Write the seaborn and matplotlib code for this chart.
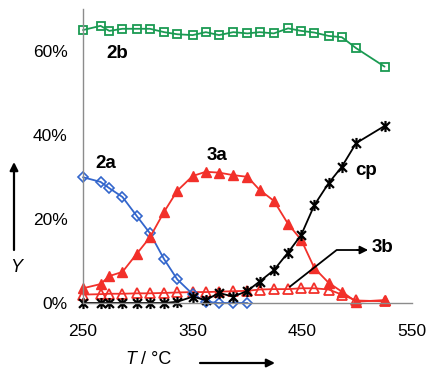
import matplotlib
matplotlib.use("Agg")
import matplotlib.pyplot as plt
import seaborn as sns
import numpy as np
import pandas as pd
from matplotlib.path import Path
from matplotlib.ticker import FuncFormatter

# ---- data ----
T = [250, 266, 274, 286, 299, 311, 324, 336, 350, 362, 374, 387, 400,
     411, 424, 437, 449, 461, 474, 486, 499, 525]
y_2b = [64.9, 65.9, 64.7, 65.2, 65.2, 65.2, 64.4, 63.9, 63.7, 64.4, 63.7, 64.4,
        64.1, 64.4, 64.1, 65.3, 64.7, 64.3, 63.5, 63.2, 60.6, 56.2]
y_2a = [29.9, 28.8, 27.3, 25.2, 20.7, 16.6, 10.4, 5.6, 2.1, 0.3, 0.0, 0.0, 0.0]
y_3a = [3.5, 4.5, 6.4, 7.4, 11.7, 15.6, 21.7, 26.7, 30.2, 31.2, 31.0, 30.4,
        30.0, 26.9, 24.3, 18.8, 15.0, 8.3, 4.8, 2.7, 0.3, 0.7]
y_3b = [2.0, 2.1, 2.2, 2.2, 2.3, 2.3, 2.4, 2.5, 2.6, 2.6, 2.7, 2.8,
        2.9, 3.2, 3.3, 3.3, 3.5, 3.5, 3.2, 2.0, 0.6, 0.4]
y_cp = [0.0, 0.0, 0.0, 0.0, 0.0, 0.0, 0.0, 0.3, 1.5, 0.7, 2.4, 1.5,
        2.9, 5.1, 7.8, 12.0, 16.2, 23.3, 28.5, 32.4, 38.0, 42.1]
x_ticks = [250, 350, 450, 550]
y_ticks = [0, 20, 40, 60]

sns.set_theme(style="white")
plt.rcParams['font.family'] = ['Liberation Sans', 'DejaVu Sans']
plt.rcParams['text.color'] = 'black'

fig = plt.figure(figsize=(4.27, 3.69), dpi=100)
ax = fig.add_axes([83/427, 1-303/369, (412-83)/427, (303-8.6)/369])

green = "#1a9a52"
blue = "#3366cc"
red = "#f2302a"

# asterisk marker: vertical + two diagonals
star = Path([(0, -1), (0, 1), (-0.8, -0.8), (0.8, 0.8), (-0.8, 0.8), (0.8, -0.8)],
            [Path.MOVETO, Path.LINETO, Path.MOVETO, Path.LINETO, Path.MOVETO, Path.LINETO])

common = dict(ax=ax, lw=1.3, clip_on=False)
sns.lineplot(x=T, y=y_2b, color=green, marker='s', ms=6,
             markerfacecolor='none', markeredgecolor=green, mew=1.3, **common)
sns.lineplot(x=T, y=y_3b, color=red, marker='^', ms=6.5,
             markerfacecolor='none', markeredgecolor=red, mew=1.3, **common)
sns.lineplot(x=T[:len(y_2a)], y=y_2a, color=blue, marker='D', ms=4.8,
             markerfacecolor='none', markeredgecolor=blue, mew=1.2, **common)
sns.lineplot(x=T, y=y_3a, color=red, marker='^', ms=7,
             markerfacecolor=red, markeredgecolor=red, mew=1, **common)
sns.lineplot(x=T, y=y_cp, color='black', marker=star, ms=8,
             markerfacecolor='none', markeredgecolor='black', mew=1.6, **common)

ax.set_xlim(250, 550)
ax.set_ylim(0, 70)
ax.set_xticks(x_ticks)
ax.set_yticks(y_ticks)
ax.yaxis.set_major_formatter(FuncFormatter(lambda v, p: f"{int(v)}%"))
ax.set_xlabel("")
ax.set_ylabel("")
for s in ['top', 'right']:
    ax.spines[s].set_visible(False)
for s in ['left', 'bottom']:
    ax.spines[s].set_color('#8c8c8c')
    ax.spines[s].set_linewidth(1.0)
ax.tick_params(axis='both', direction='out', length=5, width=1, color='#8c8c8c',
               labelsize=12.5, labelcolor='black', pad=6)
ax.tick_params(axis='x', pad=10)
ax.grid(False)

# series labels
lab = dict(fontsize=13.5, fontweight='bold', ha='center', va='center', color='black')
ax.text(281, 59.4, "2b", **lab)
ax.text(271, 33.1, "2a", **lab)
ax.text(372, 35.1, "3a", **lab)
ax.text(508, 31.4, "cp", **lab)
ax.text(523, 13.1, "3b", **lab)

# 3b arrow
ax.plot([438.7, 481.3, 502], [3.9, 12.6, 12.6], color='black', lw=1.3)
ax.annotate("", xy=(510, 12.6), xytext=(500, 12.6),
            arrowprops=dict(arrowstyle='-|>', color='black', lw=1.3,
                            mutation_scale=12, shrinkA=0, shrinkB=0))

# axis titles with arrows (figure pixel coordinates)
fig.text(125/427, 1-360/369, "T", fontsize=13, style='italic', ha='left', va='center')
fig.text(141/427, 1-360/369, "/ °C", fontsize=13, ha='left', va='center')
ax.annotate("", xy=(275, 6), xytext=(200, 6), xycoords='figure pixels',
            textcoords='figure pixels',
            arrowprops=dict(arrowstyle='-|>', color='black', lw=1.6,
                            mutation_scale=12, shrinkA=0, shrinkB=0))
fig.text(16/427, 1-267/369, "Y", fontsize=13, style='italic', ha='center', va='center')
ax.annotate("", xy=(14, 207), xytext=(14, 119), xycoords='figure pixels',
            textcoords='figure pixels',
            arrowprops=dict(arrowstyle='-|>', color='black', lw=1.6,
                            mutation_scale=12, shrinkA=0, shrinkB=0))

fig.savefig("out.png", dpi=100)
